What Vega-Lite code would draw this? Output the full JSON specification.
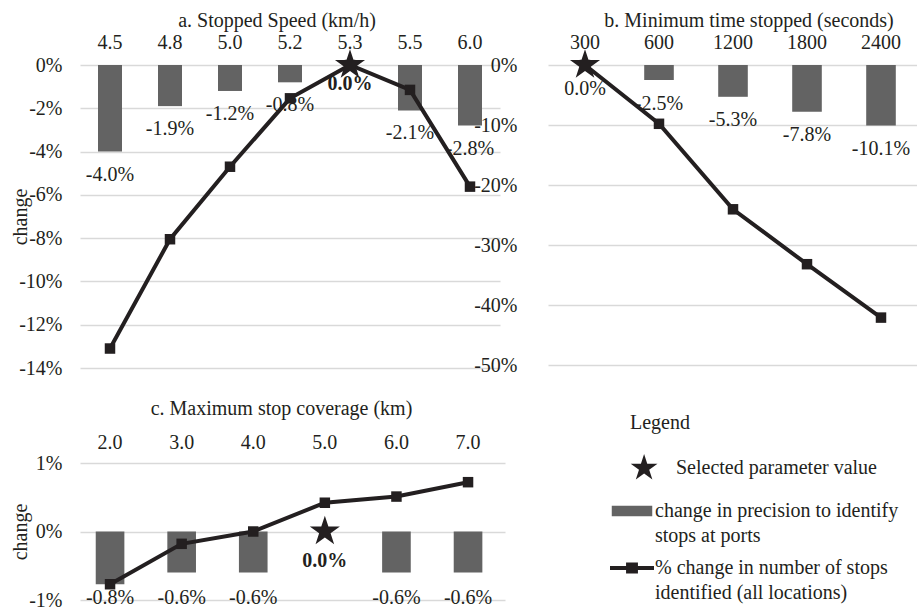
{
  "$schema": "https://vega.github.io/schema/vega-lite/v6.json",
  "background": "white",
  "padding": {"left": 10, "top": 11, "right": 0, "bottom": 0},
  "columns": 2,
  "spacing": {"row": 95, "column": 43},
  "bounds": "flush",
  "resolve": {"scale": {"color": "independent"}, "legend": {"color": "independent"}},
  "concat": [
    {
      "width": 420,
      "height": 303,
      "title": {"text": "a. Stopped Speed (km/h)", "offset": 1, "frame": "group", "dx": -13},
      "data": {"values": [
        {"x": "4.5", "precision": -0.040, "stops": -0.131, "selected": false},
        {"x": "4.8", "precision": -0.019, "stops": -0.0805, "selected": false},
        {"x": "5.0", "precision": -0.012, "stops": -0.047, "selected": false},
        {"x": "5.2", "precision": -0.008, "stops": -0.0154, "selected": false},
        {"x": "5.3", "precision": 0, "stops": 0, "selected": true},
        {"x": "5.5", "precision": -0.021, "stops": -0.0115, "selected": false},
        {"x": "6.0", "precision": -0.028, "stops": -0.0562, "selected": false}
      ]},
      "encoding": {
        "x": {"field": "x", "type": "ordinal", "sort": null,
          "scale": {"paddingInner": 0.6, "paddingOuter": 0.3},
          "axis": {"orient": "top", "title": null, "labelAngle": 0, "labelPadding": 13, "grid": false}},
        "y": {"field": "precision", "type": "quantitative", "title": "change",
          "scale": {"domain": [-0.14, 0], "nice": false},
          "axis": {"format": ".0%", "values": [0, -0.02, -0.04, -0.06, -0.08, -0.1, -0.12, -0.14], "labelPadding": 18, "titleX": -50}}
      },
      "layer": [
        {"mark": {"type": "bar", "color": "#636363"}},
        {"transform": [{"filter": "!datum.selected"}], "mark": {"type": "text", "dy": 23}, "encoding": {"text": {"field": "precision", "format": ".1%"}}},
        {"transform": [{"filter": "datum.selected"}], "mark": {"type": "text", "dy": 19, "fontWeight": "bold"}, "encoding": {"text": {"field": "precision", "format": ".1%"}}},
        {"mark": {"type": "line", "color": "#231f20", "strokeWidth": 4}, "encoding": {"y": {"field": "stops", "type": "quantitative", "title": "change"}}},
        {"mark": {"type": "point", "shape": "square", "filled": true, "size": 110, "color": "#231f20", "opacity": 1}, "encoding": {"y": {"field": "stops", "type": "quantitative", "title": "change"}}},
        {"transform": [{"filter": "datum.selected"}], "mark": {"type": "point", "shape": "M0,-1L0.2245,-0.309L0.951,-0.309L0.363,0.118L0.588,0.809L0,0.382L-0.588,0.809L-0.363,0.118L-0.951,-0.309L-0.2245,-0.309Z", "filled": true, "size": 1000, "color": "#231f20", "opacity": 1}}
      ]
    },
    {
      "width": 370,
      "height": 300,
      "title": {"text": "b. Minimum time stopped (seconds)", "offset": 1, "frame": "group", "dx": 16},
      "data": {"values": [
        {"x": "300", "precision": 0, "stops": 0, "selected": true},
        {"x": "600", "precision": -0.025, "stops": -0.098, "selected": false},
        {"x": "1200", "precision": -0.053, "stops": -0.2405, "selected": false},
        {"x": "1800", "precision": -0.078, "stops": -0.332, "selected": false},
        {"x": "2400", "precision": -0.101, "stops": -0.421, "selected": false}
      ]},
      "encoding": {
        "x": {"field": "x", "type": "ordinal", "sort": null,
          "scale": {"paddingInner": 0.6, "paddingOuter": 0.3},
          "axis": {"orient": "top", "title": null, "labelAngle": 0, "labelPadding": 13, "grid": false}},
        "y": {"field": "precision", "type": "quantitative", "title": null,
          "scale": {"domain": [-0.5, 0], "nice": false},
          "axis": {"format": ".0%", "values": [0, -0.1, -0.2, -0.3, -0.4, -0.5], "labelPadding": 31}}
      },
      "layer": [
        {"mark": {"type": "bar", "color": "#636363"}},
        {"mark": {"type": "text", "dy": 23.5}, "encoding": {"text": {"field": "precision", "format": ".1%"}}},
        {"mark": {"type": "line", "color": "#231f20", "strokeWidth": 4}, "encoding": {"y": {"field": "stops", "type": "quantitative", "title": null}}},
        {"mark": {"type": "point", "shape": "square", "filled": true, "size": 110, "color": "#231f20", "opacity": 1}, "encoding": {"y": {"field": "stops", "type": "quantitative", "title": null}}},
        {"transform": [{"filter": "datum.selected"}], "mark": {"type": "point", "shape": "M0,-1L0.2245,-0.309L0.951,-0.309L0.363,0.118L0.588,0.809L0,0.382L-0.588,0.809L-0.363,0.118L-0.951,-0.309L-0.2245,-0.309Z", "filled": true, "size": 1000, "color": "#231f20", "opacity": 1}}
      ]
    },
    {
      "width": 425,
      "height": 137,
      "title": {"text": "c. Maximum stop coverage (km)", "offset": -6, "frame": "group", "dx": -11},
      "data": {"values": [
        {"x": "2.0", "precision": -0.0077, "stops": -0.0077, "selected": false},
        {"x": "3.0", "precision": -0.006, "stops": -0.0018, "selected": false},
        {"x": "4.0", "precision": -0.006, "stops": 0, "selected": false},
        {"x": "5.0", "precision": 0, "stops": 0.0042, "selected": true},
        {"x": "6.0", "precision": -0.006, "stops": 0.0051, "selected": false},
        {"x": "7.0", "precision": -0.006, "stops": 0.0072, "selected": false}
      ]},
      "encoding": {
        "x": {"field": "x", "type": "ordinal", "sort": null,
          "scale": {"paddingInner": 0.6, "paddingOuter": 0.268, "align": 0.41},
          "axis": {"orient": "top", "title": null, "labelAngle": 0, "labelPadding": 11, "grid": false}},
        "y": {"field": "precision", "type": "quantitative", "title": "change",
          "scale": {"domain": [-0.01, 0.01], "nice": false},
          "axis": {"format": ".0%", "values": [-0.01, 0, 0.01], "labelPadding": 18, "titleX": -50}}
      },
      "layer": [
        {"mark": {"type": "bar"},
          "encoding": {"color": {"datum": "bar", "type": "nominal",
            "scale": {"domain": ["star", "bar", "line"], "range": ["#231f20", "#636363", "#231f20"]},
            "legend": {
              "orient": "none", "legendX": 530, "legendY": -50, "padding": 0,
              "title": "Legend",
              "titleFont": "Liberation Serif", "titleFontSize": 20, "titleFontWeight": "normal", "titleColor": "#231f20", "titlePadding": 13,
              "labelFont": "Liberation Serif", "labelFontSize": 20, "labelColor": "#231f20", "labelLimit": 400, "labelOffset": 1,
              "symbolSize": 1936, "symbolStrokeWidth": 0, "symbolOpacity": 1, "rowPadding": 0,
              "labelExpr": "datum.value === 'star' ? 'Selected parameter value' : datum.value === 'bar' ? ['\\u00a0\\u00a0change in precision to identify', 'stops at ports'] : ['% change in number of stops', 'identified (all locations)']",
              "encode": {
                "title": {"update": {"dx": {"value": 20}}},
                "symbols": {"update": {
                  "shape": {"signal": "datum.value === 'star' ? 'M0.55,-0.64L0.694,-0.198L1.159,-0.198L0.782,0.076L0.926,0.518L0.55,0.245L0.174,0.518L0.318,0.076L-0.059,-0.198L0.406,-0.198Z M0.5,0.93L0.501,0.93L0.5,0.931Z' : datum.value === 'bar' ? 'M-0.92,-0.24L0.92,-0.24L0.92,0.24L-0.92,0.24Z' : 'M-1,-0.09L1,-0.09L1,0.09L-1,0.09Z M-0.27,-0.25L0.27,-0.25L0.27,0.25L-0.27,0.25Z'"},
                  "fill": {"signal": "datum.value === 'bar' ? '#636363' : '#231f20'"},
                  "stroke": {"value": "transparent"},
                  "opacity": {"value": 1}
                }},
                "labels": {"update": {"lineHeight": {"value": 25}, "dx": {"signal": "datum.value === 'star' ? 21 : 0"}}}
              }
            }}}},
        {"transform": [{"filter": "!datum.selected"}], "mark": {"type": "text", "dy": 25.5}, "encoding": {"y": {"datum": -0.006, "type": "quantitative"}, "text": {"field": "precision", "format": ".1%"}}},
        {"transform": [{"filter": "datum.selected"}], "mark": {"type": "text", "dy": 29.5, "fontWeight": "bold"}, "encoding": {"text": {"field": "precision", "format": ".1%"}}},
        {"mark": {"type": "line", "strokeWidth": 4}, "encoding": {"y": {"field": "stops", "type": "quantitative", "title": "change"}, "color": {"datum": "line", "type": "nominal"}}},
        {"mark": {"type": "point", "shape": "square", "filled": true, "size": 110, "opacity": 1}, "encoding": {"y": {"field": "stops", "type": "quantitative", "title": "change"}, "color": {"datum": "line", "type": "nominal"}}},
        {"transform": [{"filter": "datum.selected"}], "mark": {"type": "point", "shape": "M0,-1L0.2245,-0.309L0.951,-0.309L0.363,0.118L0.588,0.809L0,0.382L-0.588,0.809L-0.363,0.118L-0.951,-0.309L-0.2245,-0.309Z", "filled": true, "size": 1000, "opacity": 1}, "encoding": {"color": {"datum": "star", "type": "nominal"}}}
      ]
    }
  ],
  "config": {
    "font": "Liberation Serif",
    "locale": {"number": {"decimal": ".", "thousands": ",", "grouping": [3], "currency": ["$", ""], "minus": "-"}},
    "view": {"stroke": null},
    "axis": {
      "labelFont": "Liberation Serif", "labelFontSize": 20, "labelColor": "#231f20",
      "titleFont": "Liberation Serif", "titleFontSize": 20, "titleFontWeight": "normal", "titleColor": "#231f20",
      "domain": false, "ticks": false, "gridColor": "#d9d9d9", "gridWidth": 1.3
    },
    "title": {"font": "Liberation Serif", "fontSize": 20, "fontWeight": "normal", "color": "#231f20"},
    "text": {"font": "Liberation Serif", "fontSize": 20, "color": "#231f20"}
  }
}
